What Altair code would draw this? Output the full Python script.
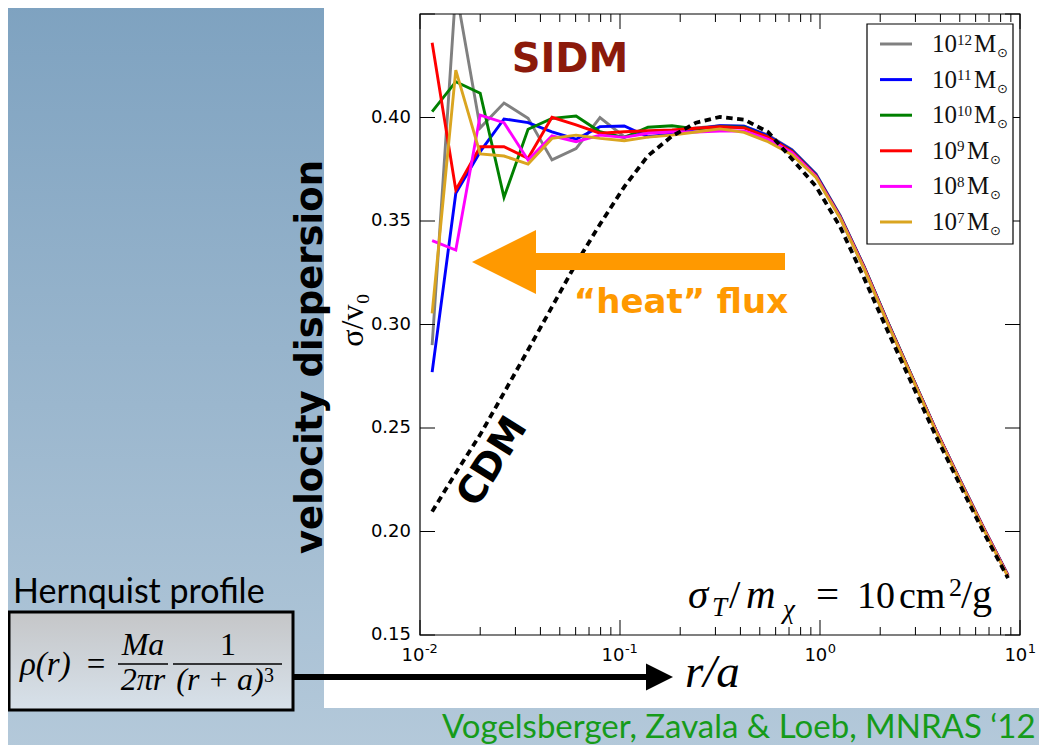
import altair as alt
import pandas as pd

# ---------------- data ----------------
r_over_a = [0.0115, 0.0151, 0.0200, 0.0263, 0.0347, 0.0457, 0.0603, 0.0794, 0.105, 0.138,
            0.182, 0.240, 0.316, 0.417, 0.550, 0.724, 0.955, 1.259, 1.660, 2.188,
            2.884, 3.802, 5.012, 6.607, 8.710]

sigma_1e12 = [0.290, 0.462, 0.395, 0.407, 0.3996, 0.3795, 0.385, 0.400, 0.3907, 0.393,
              0.3935, 0.395, 0.396, 0.3958, 0.3915, 0.3845, 0.3728, 0.3528, 0.3282, 0.3010,
              0.2750, 0.2490, 0.2250, 0.2015, 0.1790]
sigma_1e11 = [0.277, 0.3634, 0.3835, 0.3993, 0.3975, 0.3931, 0.3895, 0.3956, 0.3959, 0.3907,
              0.392, 0.3945, 0.396, 0.3958, 0.3912, 0.3842, 0.3725, 0.3525, 0.3280, 0.3008,
              0.2748, 0.2490, 0.2248, 0.2014, 0.1788]
sigma_1e10 = [0.4028, 0.4173, 0.4117, 0.3614, 0.3943, 0.3996, 0.4007, 0.3931, 0.3903, 0.3953,
              0.396, 0.3945, 0.3955, 0.3953, 0.3905, 0.3838, 0.3720, 0.3522, 0.3278, 0.3008,
              0.2748, 0.2490, 0.2247, 0.2013, 0.1786]
sigma_1e9 = [0.4361, 0.365, 0.3859, 0.3859, 0.3803, 0.4001, 0.3964, 0.3924, 0.3931, 0.3936,
             0.394, 0.3948, 0.3955, 0.3950, 0.3905, 0.3835, 0.3718, 0.3520, 0.3276, 0.3005,
             0.2746, 0.2488, 0.2246, 0.2012, 0.1786]
sigma_1e8 = [0.3405, 0.336, 0.4012, 0.3975, 0.3795, 0.3911, 0.3883, 0.3915, 0.3904, 0.3924,
             0.393, 0.393, 0.3935, 0.3935, 0.3895, 0.3830, 0.3715, 0.3518, 0.3274, 0.3003,
             0.2744, 0.2486, 0.2244, 0.2010, 0.1784]
sigma_1e7 = [0.3054, 0.4229, 0.3824, 0.3814, 0.3775, 0.3899, 0.3915, 0.3899, 0.3888, 0.3905,
             0.3915, 0.393, 0.3945, 0.3928, 0.3883, 0.3820, 0.3710, 0.3515, 0.3270, 0.3000,
             0.2742, 0.2483, 0.2242, 0.2008, 0.1782]
sigma_cdm = [0.2096, 0.2283, 0.2468, 0.2670, 0.2877, 0.3085, 0.3295, 0.3484, 0.3665, 0.3815,
             0.3910, 0.3975, 0.4003, 0.3990, 0.3930, 0.3800, 0.3667, 0.3473, 0.3225, 0.2965,
             0.2713, 0.2460, 0.2225, 0.1992, 0.1775]

series_values = [sigma_1e12, sigma_1e11, sigma_1e10, sigma_1e9, sigma_1e8, sigma_1e7]
series_exponents = ["12", "11", "10", "9", "8", "7"]
series_colors = ["#808080", "#0000ff", "#008000", "#ff0000", "#ff00ff", "#daa520"]

x_major = [0.01, 0.1, 1, 10]
x_tick_base = "10"
x_tick_exponents = ["-2", "-1", "0", "1"]
x_minor = [0.02, 0.03, 0.04, 0.05, 0.06, 0.07, 0.08, 0.09,
           0.2, 0.3, 0.4, 0.5, 0.6, 0.7, 0.8, 0.9,
           2, 3, 4, 5, 6, 7, 8, 9]
y_major = [0.15, 0.20, 0.25, 0.30, 0.35, 0.40, 0.45]
y_labelled = [0.15, 0.20, 0.25, 0.30, 0.35, 0.40]
y_tick_labels = ["0.15", "0.20", "0.25", "0.30", "0.35", "0.40"]

# ---------------- layout ----------------
W, H = 600, 621
one = pd.DataFrame({"k": [0]})
xs = alt.Scale(type="log", domain=[0.01, 10], nice=False)
ys = alt.Scale(domain=[0.15, 0.45], nice=False, zero=False)

ORANGE = "#ff9900"
SERIF = "Liberation Serif"
SANS = "DejaVu Sans"


def box(x1, x2, y1, y2, **kw):
    return alt.Chart(one).mark_rect(**kw).encode(
        x=alt.value(x1), x2=alt.value(x2), y=alt.value(y1), y2=alt.value(y2))


def label(x, y, text, **kw):
    kw.setdefault("align", "left")
    kw.setdefault("baseline", "alphabetic")
    kw.setdefault("color", "black")
    return alt.Chart(one).mark_text(**kw).encode(
        x=alt.value(x), y=alt.value(y), text=alt.value(text))


def tri(x, y, shape, size, color):
    return alt.Chart(one).mark_point(shape=shape, size=size, filled=True, fill=color,
                                     strokeWidth=0, opacity=1).encode(
        x=alt.value(x), y=alt.value(y))


def curve(vals, color, dash=None, width=2.9):
    d = pd.DataFrame({"r": r_over_a, "sigma": vals})
    mk = dict(color=color, strokeWidth=width, clip=True)
    if dash:
        mk["strokeDash"] = dash
    return alt.Chart(d).mark_line(**mk).encode(
        x=alt.X("r:Q", scale=xs, axis=None),
        y=alt.Y("sigma:Q", scale=ys, axis=None))


layers = []

# slide background and white figure panel
bg_grad = alt.LinearGradient(gradient="linear",
                             stops=[alt.GradientStop(offset=0, color="#7ea2c0"),
                                    alt.GradientStop(offset=1, color="#b4c9da")],
                             x1=0, x2=0, y1=0, y2=1)
layers.append(box(-420, 627, -14, 739, fill=bg_grad))
layers.append(box(-96, 627, -8, 694, fill="white"))

# Hernquist box
box_grad = alt.LinearGradient(gradient="linear",
                              stops=[alt.GradientStop(offset=0, color="#c5c6c8"),
                                     alt.GradientStop(offset=1, color="#d7e1ea")],
                              x1=0, x2=0, y1=0, y2=1)
layers.append(label(-407, 589, "Hernquist profile", font="Lato", fontSize=34))
layers.append(box(-411, -127, 598, 696, fill=box_grad, stroke="black", strokeWidth=3))
layers.append(label(-400, 661, "ρ(r)", font=SERIF, fontSize=33, fontStyle="italic"))
layers.append(label(-324, 661, "=", font=SERIF, fontSize=33, align="center"))
layers.append(label(-277, 641, "Ma", font=SERIF, fontSize=32, fontStyle="italic", align="center"))
layers.append(label(-277, 676, "2πr", font=SERIF, fontSize=32, fontStyle="italic", align="center"))
layers.append(label(-192, 641, "1", font=SERIF, fontSize=32, align="center"))
layers.append(label(-200, 676, "(r + a)", font=SERIF, fontSize=32, fontStyle="italic", align="center"))
layers.append(label(-156, 668, "3", font=SERIF, fontSize=20))
layers.append(alt.Chart(one).mark_rule(color="black", strokeWidth=1.5).encode(
    x=alt.value(-302), x2=alt.value(-252), y=alt.value(650)))
layers.append(alt.Chart(one).mark_rule(color="black", strokeWidth=1.5).encode(
    x=alt.value(-247), x2=alt.value(-138), y=alt.value(650)))

# black arrow to r/a
layers.append(box(-128, 228, 660, 666, fill="black"))
layers.append(tri(239.5, 663, "M 1 0 L -1 -1 L -1 1 Z", 729, "black"))
layers.append(label(265, 673, "r/a", font=SERIF, fontSize=47, fontStyle="italic"))

# citation
layers.append(label(22, 724, "Vogelsberger, Zavala & Loeb, MNRAS ‘12", font="Lato",
                    fontSize=33, color="#169b1a"))

# y titles
layers.append(label(-98, 343, "velocity dispersion", font=SANS, fontWeight="bold",
                    fontSize=37, angle=270, align="center"))
layers.append(label(-67, 306, "σ/v₀", font=SERIF, fontSize=32, angle=270, align="center",
                    baseline="middle"))

# SIDM curves
for vals, col in zip(series_values, series_colors):
    layers.append(curve(vals, col))

# CDM curve
layers.append(curve(sigma_cdm, "black", dash=[6.5, 4.5], width=3.8))

# annotations
layers.append(box(110, 365, 239, 256, fill=ORANGE))
layers.append(tri(84, 248, "M -1 0 L 1 -1 L 1 1 Z", 4096, ORANGE))
layers.append(label(261, 299, "“heat” flux", font=SANS, fontWeight="bold", fontSize=34,
                    color=ORANGE, align="center"))
layers.append(label(150, 58, "SIDM", font=SANS, fontWeight="bold", fontSize=40,
                    color="#8b1a0b", align="center"))
layers.append(label(73, 448, "CDM", font=SANS, fontWeight="bold", fontSize=38,
                    angle=302, align="center", baseline="middle"))

# sigma_T / m_chi text
layers.append(label(268, 594, "σ", font=SERIF, fontSize=41, fontStyle="italic"))
layers.append(label(292, 602, "T", font=SERIF, fontSize=27, fontStyle="italic"))
layers.append(label(309, 594, "/", font=SERIF, fontSize=41))
layers.append(label(326, 594, "m", font=SERIF, fontSize=41, fontStyle="italic"))
layers.append(label(363, 604, "χ", font=SERIF, fontSize=27, fontStyle="italic"))
layers.append(label(396, 594, "=", font=SERIF, fontSize=41))
layers.append(label(437, 594, "10", font=SERIF, fontSize=38))
layers.append(label(479, 594, "cm", font=SERIF, fontSize=38))
layers.append(label(529, 582, "2", font=SERIF, fontSize=26))
layers.append(label(541, 594, "/g", font=SERIF, fontSize=40))

# ticks (inward, matplotlib style) and frame
xmaj = pd.DataFrame({"v": x_major})
xmin = pd.DataFrame({"v": x_minor})
ymaj = pd.DataFrame({"v": y_major})
for dfv, ln in ((xmaj, 15), (xmin, 8)):
    layers.append(alt.Chart(dfv).mark_rule(color="black", strokeWidth=1).encode(
        x=alt.X("v:Q", scale=xs, axis=None), y=alt.value(H), y2=alt.value(H - ln)))
    layers.append(alt.Chart(dfv).mark_rule(color="black", strokeWidth=1).encode(
        x=alt.X("v:Q", scale=xs, axis=None), y=alt.value(0), y2=alt.value(ln)))
layers.append(alt.Chart(ymaj).mark_rule(color="black", strokeWidth=1).encode(
    y=alt.Y("v:Q", scale=ys, axis=None), x=alt.value(0), x2=alt.value(15)))
layers.append(alt.Chart(ymaj).mark_rule(color="black", strokeWidth=1).encode(
    y=alt.Y("v:Q", scale=ys, axis=None), x=alt.value(W), x2=alt.value(W - 15)))
layers.append(box(0, W, 0, H, filled=False, stroke="black", strokeWidth=1.2))

# tick labels: x labels as base "10" plus raised exponent, centred on the tick
BASE_FS, EXP_FS = 18, 13
char_w = {"-": 0.45, "0": 0.636, "1": 0.636, "2": 0.636}
w_base = 2 * 0.636 * BASE_FS
for v, ex in zip(x_major, x_tick_exponents):
    w_exp = sum(char_w[c] for c in ex) * EXP_FS
    left = -(w_base + w_exp) / 2
    d = pd.DataFrame({"v": [v]})
    layers.append(alt.Chart(d).mark_text(font=SANS, fontSize=BASE_FS, align="left",
                                         baseline="alphabetic", color="black", dx=left).encode(
        x=alt.X("v:Q", scale=xs, axis=None), y=alt.value(H + 26), text=alt.value(x_tick_base)))
    layers.append(alt.Chart(d).mark_text(font=SANS, fontSize=EXP_FS, align="left",
                                         baseline="alphabetic", color="black",
                                         dx=left + w_base + 0.5).encode(
        x=alt.X("v:Q", scale=xs, axis=None), y=alt.value(H + 18), text=alt.value(ex)))

ylab = pd.DataFrame({"v": y_labelled, "t": y_tick_labels})
layers.append(alt.Chart(ylab).mark_text(font=SANS, fontSize=18, align="right",
                                        baseline="middle", color="black").encode(
    y=alt.Y("v:Q", scale=ys, axis=None), x=alt.value(-9), text="t:N"))

# legend
layers.append(box(447, 593, 10, 230, fill="white", stroke="black", strokeWidth=1.2))
for i, (ex, col) in enumerate(zip(series_exponents, series_colors)):
    yc = 30 + 35.6 * i
    layers.append(alt.Chart(one).mark_rule(color=col, strokeWidth=3).encode(
        x=alt.value(460), x2=alt.value(492), y=alt.value(yc)))
    layers.append(label(512, yc + 8, "10", font=SERIF, fontSize=25, color="#111"))
    layers.append(label(537, yc + 0.5, ex, font=SERIF, fontSize=15, color="#111"))
    mx = 537 + 7 * len(ex) + 3
    layers.append(label(mx, yc + 8, "M", font=SERIF, fontSize=25, color="#111"))
    layers.append(label(mx + 23, yc + 13, "⊙", font=SANS, fontSize=13, color="#111"))

chart = alt.layer(*layers).properties(
    width=W, height=H,
    padding={"left": 412, "top": 6, "right": 19, "bottom": 110},
    autosize=alt.AutoSizeParams(type="none"),
    background="#9fb9d0",
).configure_view(strokeWidth=0)

chart.save("out.html", embed_options={"renderer": "svg", "actions": False})
